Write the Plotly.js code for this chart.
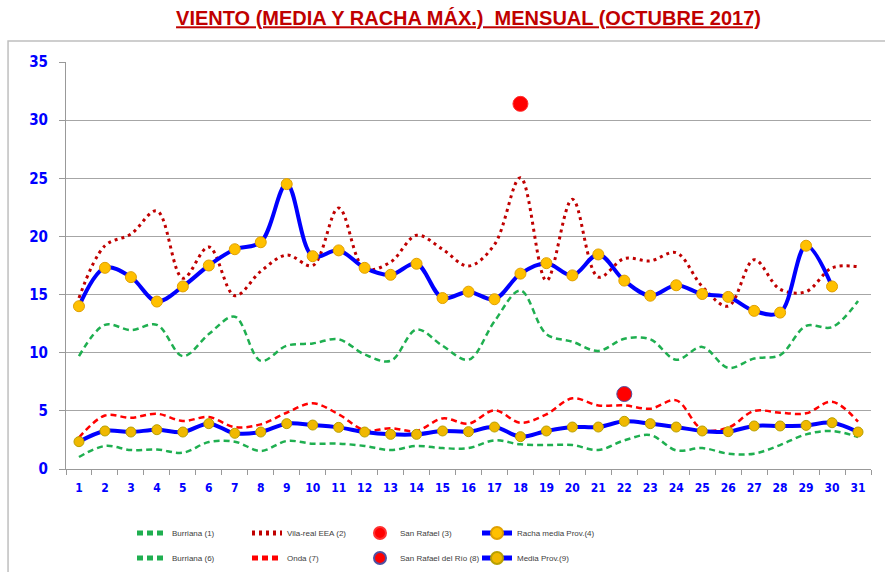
<!DOCTYPE html>
<html>
<head>
<meta charset="utf-8">
<script src="https://cdn.plot.ly/plotly-3.0.1.min.js"></script>
<style>html,body{margin:0;padding:0;background:#fff;}#chart{width:885px;height:572px;}</style>
</head>
<body>
<div id="chart"></div>
<script>
const days = ['1','2','3','4','5','6','7','8','9','10','11','12','13','14','15','16','17','18','19','20','21','22','23','24','25','26','27','28','29','30','31'];
const burriana1 = [9.7,12.4,11.95,12.4,9.7,11.6,13.1,9.3,10.6,10.8,11.15,9.85,9.3,12.0,10.6,9.4,12.7,15.35,11.6,10.95,10.15,11.2,11.15,9.4,10.5,8.7,9.5,9.8,12.3,12.2,14.45];
const vilareal2 = [14.7,19.2,20.2,22.2,16.4,19.1,14.9,17.0,18.4,17.5,22.45,17.2,17.8,20.1,18.9,17.45,19.3,25.05,16.2,23.2,16.5,18.1,17.9,18.6,15.7,14.0,18.0,15.45,15.25,17.3,17.4];
const sanRafael3 = [null,null,null,null,null,null,null,null,null,null,null,null,null,null,null,null,null,31.4,null,null,null,null,null,null,null,null,null,null,null,null,null];
const racha4 = [14.0,17.3,16.5,14.4,15.7,17.5,18.9,19.5,24.5,18.3,18.8,17.3,16.7,17.65,14.7,15.25,14.6,16.8,17.7,16.65,18.45,16.2,14.9,15.8,15.05,14.8,13.6,13.45,19.2,15.7,null];
const burriana6 = [1.03,1.98,1.63,1.68,1.4,2.32,2.35,1.55,2.41,2.18,2.18,1.98,1.63,1.98,1.8,1.8,2.46,2.12,2.06,2.06,1.63,2.46,2.92,1.6,1.8,1.32,1.32,2.06,2.98,3.27,2.75];
const onda7 = [2.7,4.6,4.4,4.75,4.13,4.47,3.6,3.84,4.84,5.65,4.7,3.33,3.5,3.27,4.35,3.9,5.05,3.98,4.7,6.08,5.47,5.47,5.19,5.9,3.41,3.55,4.99,4.84,4.79,5.79,4.07];
const sanRafaelRio8 = [null,null,null,null,null,null,null,null,null,null,null,null,null,null,null,null,null,null,null,null,null,6.45,null,null,null,null,null,null,null,null,null];
const media9 = [2.35,3.27,3.18,3.38,3.18,3.9,3.07,3.18,3.9,3.78,3.58,3.18,2.98,2.98,3.27,3.21,3.61,2.78,3.27,3.61,3.61,4.1,3.9,3.61,3.27,3.21,3.7,3.7,3.75,3.98,3.18];
const yTicks = [0,5,10,15,20,25,30,35];

const green = '#1FAF50', dred = '#C00000', red = '#FF0000', blue = '#0000FF', orange = '#FFC000';
const sp = {shape:'spline', smoothing:1};

const traces = [
  {x:days, y:burriana1, name:'Burriana (1)', mode:'lines', legend:'legend', legendgroup:'a',
   line:Object.assign({color:green, width:2.5, dash:'6px,4px'}, sp)},
  {x:days, y:vilareal2, name:'Vila-real EEA (2)', mode:'lines', legend:'legend2', legendgroup:'b',
   line:Object.assign({color:dred, width:3, dash:'3px,4px'}, sp)},
  {x:days, y:sanRafael3, name:'San Rafael (3)', mode:'markers', legend:'legend3', legendgroup:'c',
   marker:{color:red, size:15, line:{color:'#FF3030', width:1}}},
  {x:days, y:racha4, name:'Racha media Prov.(4)', mode:'lines+markers', legend:'legend4', legendgroup:'d',
   line:Object.assign({color:blue, width:4}, sp),
   marker:{color:orange, size:11, line:{color:'#E0A000', width:1}}},
  {x:days, y:burriana6, name:'Burriana (6)', mode:'lines', legend:'legend', legendgroup:'e',
   line:Object.assign({color:green, width:2.5, dash:'6px,4px'}, sp)},
  {x:days, y:onda7, name:'Onda (7)', mode:'lines', legend:'legend2', legendgroup:'f',
   line:Object.assign({color:red, width:2.5, dash:'6px,4px'}, sp)},
  {x:days, y:sanRafaelRio8, name:'San Rafael del Río (8)', mode:'markers', legend:'legend3', legendgroup:'g',
   marker:{color:red, size:15, line:{color:'#5050A0', width:1}}},
  {x:days, y:media9, name:'Media Prov.(9)', mode:'lines+markers', legend:'legend4', legendgroup:'h',
   line:Object.assign({color:blue, width:4}, sp),
   marker:{color:'#F0B800', size:10, line:{color:'#B8A000', width:1}}}
];

const legFont = {family:'Liberation Sans, Arial, sans-serif', size:8, color:'#404040'};
function colLegend(xp) {
  return {orientation:'v', x:xp, xanchor:'left', y:-0.188, yanchor:'middle', font:legFont,
    itemsizing:'constant', bgcolor:'rgba(0,0,0,0)', traceorder:'grouped', tracegroupgap:6};
}
const layout = {
  width:885, height:572,
  margin:{l:66, r:14, t:62, b:103, autoexpand:false},
  paper_bgcolor:'#fff', plot_bgcolor:'#fff',
  showlegend:true,
  title:{text:'<u>VIENTO (MEDIA Y RACHA MÁX.)  MENSUAL (OCTUBRE 2017)</u>',
    font:{family:'Liberation Sans, Arial, sans-serif', size:20, color:dred, weight:'bold'},
    x:0.5, xref:'paper', y:0.968, yanchor:'middle'},
  xaxis:{type:'category', range:[-0.5,30.5], tickson:'boundaries', ticks:'outside', ticklen:5,
    tickcolor:'#999', showline:true, linecolor:'#999', linewidth:1, showgrid:false,
    ticklabelstandoff:8,
    tickfont:{family:'DejaVu Sans Condensed, DejaVu Sans, sans-serif', size:12, color:blue, weight:'bold'},
    fixedrange:true},
  yaxis:{range:[0,35], tickvals:yTicks, ticktext:yTicks.map(String), ticks:'outside', ticklen:6,
    tickcolor:'#999', showline:true, linecolor:'#999', linewidth:1, showgrid:true, gridcolor:'#A6A6A6', gridwidth:1,
    zeroline:false, ticklabelstandoff:8,
    tickfont:{family:'DejaVu Sans Condensed, DejaVu Sans, sans-serif', size:15, color:blue, weight:'bold'},
    fixedrange:true},
  legend: colLegend((132-66)/805),
  legend2: colLegend((247-66)/805),
  legend3: colLegend((360-66)/805),
  legend4: colLegend((477-66)/805),
  shapes:[{type:'rect', xref:'paper', yref:'paper', x0:-0.072, x1:1.03, y0:-0.3, y1:1.0516,
    line:{color:'#BFBFBF', width:1.5}, fillcolor:'rgba(0,0,0,0)', layer:'below'}]
};
Plotly.newPlot('chart', traces, layout, {displayModeBar:false, staticPlot:true});
</script>
</body>
</html>
